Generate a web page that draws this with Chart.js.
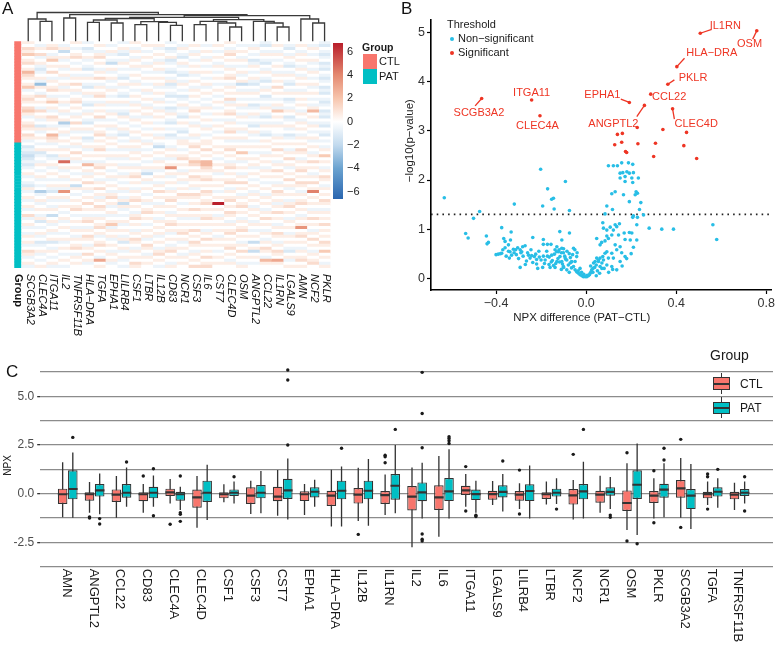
<!DOCTYPE html>
<html>
<head>
<meta charset="utf-8">
<title>CTL vs PAT proteins</title>
<script src="https://cdn.jsdelivr.net/npm/chart.js@4.4.1/dist/chart.umd.min.js"></script>
<style>
  body { margin: 0; background: #fff; font-family: "Liberation Sans", Arial, sans-serif; }
  #wrap { position: relative; width: 777px; height: 649px; overflow: hidden; }
  canvas { position: absolute; }
  .t { position: absolute; white-space: nowrap; line-height: 1; color: #1a1a1a; }
  .panel { font-size: 17px; color: #111; }
  .blk { position: absolute; }
</style>
</head>
<body>
<div id="wrap">
  <canvas id="box" width="777" height="319" style="left:0;top:330px"></canvas>
  <canvas id="heat" width="390" height="342" style="left:0;top:0"></canvas>
  <canvas id="dendro" width="390" height="45" style="left:0;top:0"></canvas>
  <canvas id="cbar" width="70" height="180" style="left:320px;top:30px"></canvas>
  <canvas id="vol" width="392" height="330" style="left:385px;top:0"></canvas>

  <div class="t panel" style="left:2px;top:0">A</div>
  <div class="t panel" style="left:401px;top:0">B</div>
  <div class="t panel" style="left:6px;top:363px">C</div>

  <!-- heatmap group legend -->
  <div class="t" style="left:362px;top:42px;font-size:10.5px;font-weight:bold">Group</div>
  <div class="blk" style="left:363px;top:54px;width:14px;height:15px;background:#F8766D"></div>
  <div class="blk" style="left:363px;top:69px;width:14px;height:15px;background:#00BFC4"></div>
  <div class="t" style="left:379px;top:56px;font-size:11px">CTL</div>
  <div class="t" style="left:379px;top:71px;font-size:11px">PAT</div>

  <!-- volcano legend -->
  <div class="t" style="left:447px;top:19px;font-size:11px">Threshold</div>
  <div class="blk" style="left:449.7px;top:36.7px;width:4px;height:4px;border-radius:50%;background:#28BEE6"></div>
  <div class="blk" style="left:449.7px;top:50.7px;width:4px;height:4px;border-radius:50%;background:#EE3524"></div>
  <div class="t" style="left:458px;top:33px;font-size:11px">Non&#8722;significant</div>
  <div class="t" style="left:458px;top:47px;font-size:11px">Significant</div>

  <!-- boxplot legend -->
  <div class="t" style="left:710px;top:348px;font-size:14px">Group</div>
  <div class="blk" style="left:721px;top:373px;width:1.3px;height:21px;background:#333"></div>
  <div class="blk" style="left:713px;top:377px;width:14.6px;height:10.6px;border:1.2px solid #333;background:#F8766D"></div>
  <div class="blk" style="left:713px;top:382.8px;width:17px;height:2px;background:#333"></div>
  <div class="t" style="left:740px;top:377.5px;font-size:12px">CTL</div>
  <div class="blk" style="left:721px;top:397px;width:1.3px;height:21px;background:#333"></div>
  <div class="blk" style="left:713px;top:401.5px;width:14.6px;height:10.6px;border:1.2px solid #333;background:#00BFC4"></div>
  <div class="blk" style="left:713px;top:407px;width:17px;height:2px;background:#333"></div>
  <div class="t" style="left:740px;top:401.5px;font-size:12px">PAT</div>
</div>

<script>
// ---------- panel A : heatmap ----------
var heatGenes = ['SCGB3A2','CLEC4A','ITGA11','IL2','TNFRSF11B','HLA-DRA','TGFA','EPHA1','LILRB4','CSF1',
  'LTBR','IL12B','CD83','NCR1','CSF3','IL6','CST7','CLEC4D','OSM','ANGPTL2','CCL22','IL1RN','LGALS9','AMN','NCF2','PKLR'];
var nCTL = 34, nPAT = 42;
// one string per gene, one letter per sample: N = 0, each letter step = 0.6 NPX (CTL | PAT)
var levelStep = 0.6;
var heatLevels = [
  'ONPOQNOPNORPONOQMNOPONPQOMNOPONPOM|NLMLKLMLMNOMNMLOMNOMNOMNPMNOMNMONOMNPOMNOM',
  'NMONPMNOMLMNOMIONMPNONMPNOMNLOMNON|MNOLMNMONMNOMNMNJMNOMNONMOLNMNOMNLMNOMNMNO',
  'NOPNMOQNONPNMONOPNMOQNOMNPONMONRPO|MNONLMNOMNONMNOMLNOMNMONKNOMNOMNOLNMONMNOM',
  'NMOKNOMNOMNOMNOMONMNOMNOMNOJMNOMNO|NMONOMVNOMNOMNOMTNOMNONMNOMNONMNOMNONMNONM',
  'ONMNOPNMNONMONPNOMNOPNONMONPNOMNON|OMNPNOMNONMNONKONMNONOPNMNONMONMONOPNMONON',
  'MNLMNOMNMLNMONMLNOMNMLNMONMLNOMNLM|NOMNONMRNOMONPNOMNONPNONMOPNMONPONMONPNOMN',
  'NONMOPNONMONPNMONOPNMONONPMNONOPNO|NOPNONMOPNONMONPNOMONPONMONOPNOMNOPNONMSNO',
  'NMNOMNMKNOMNOMNMONMNOMNMONMNOMNMON|ONMNOMNONMNOMNONMOPNOMNOMNOQMONOMNONMONOMN',
  'MNOMLNMONMNMLNOMNMLNOMNMLONMNOMLNM|NOMNOMNMONMONMNOMNMOKOMNMNOMNONMOLNOMNOMNM',
  'ONMONMONOMNONMONMNONMONONMONMNONMO|NOMONONMONOPNONMONOPNONMOPNONMONPONMONONPO',
  'NONMNONMONMNONMNOMNONMONOMNONMNONM|ONMNONMNOMKNOMNONMNOMNOPNONMNONOMNPONMONON',
  'NOMNONMONOMNONOMNONMONMONONMNONMON|MKNONMONOMNONMONPNONMONONMONONOMNONMOPNONM',
  'MNLMNOLMNMLNMOLMNMLNMNLMONMLNMNLMN|NMONOMNOTNOMNONMONOPNONMONOPNOMNONMOPNONMO',
  'NMONMLNOMNMLNMONMNLMNOMNMLNONMLNMO|ONMNOPNONMONOMNONPONMNONOMNONOPNOMNONMONON',
  'NONMONMNONOMNONMONONMNOPNONMONNOMN|OPNONOQPNONPONOMNPONONPNOMNONPNONPONMONONP',
  'NMNONMONMNONMNOMNONMNMONMNONMONMNO|ONPNONRRPONOPNONPONOPNONOPNONMONPNONONPNOP',
  'NONMNONMONMNONMNONMNONMNONMNONMNON|NONONMNONOMNONONMNONZNONMONONONMONONMNONON',
  'ONMOPNONMONOPNMONONPMONOPNMONOPNOM|NOPNONMOPNONOPNMONOPNONPONMONOPNONOPNONMON',
  'NMNONMONMNOMNOKNMONMNOMNMONMNOMNOM|NONQNOMNONMONPNONMONOPNONMONOPNONMONPNONMO',
  'NMONMNLMONMNOMLNMONMNLMNOMNMLNOMNM|NONMNONOMNONMNONMONONMONONMONMNONKNOKNONMN',
  'MLNMONMLNMONMLNMONLMNMONMLNMONMLNO|NONMONONMONONMNONMONONMONPNONMONMONPONMRON',
  'NONMONMNONMONONPNONMNOMQNONMONNMON|ONPNONMONPNONMONPONOMONPNONMONPONMONPONSON',
  'NMLNMONMLNMONMLNMONLMNMONLMNOMNLMN|ONMONPNOMNONPNOMNONMOPNONMONONMONONMLNOMNO',
  'NONMONONMONMONONMONONONMONMONONMON|ONPONMONOPNONPONMONOPNONMONOTNOPNONMONOPNO',
  'NMONMNOMNMONMNOMNONMNMORNONMONMNOM|NONMONPNONMONPNOUNONONMONPNONMONPNONMONOPN',
  'MLNMLMNLMLNMLMNLMLNMLMNLMLNMLNMLNM|NMONQNONMONPONMONONPONMONONPNONONPONQNONMO'
];
var groupColor = { CTL: '#F8766D', PAT: '#00BFC4' };
// colour key: NPX value -> colour
var heatStops = [[-6.7, '#2A66B0'], [-4, '#6BA3D0'], [-2, '#C2DAEE'], [0, '#FFFFFF'], [2, '#F7C5AD'], [4, '#E48970'], [6.7, '#B9202C']];
var cbRange = [-6.63, 6.75];
var cbTicks = [-6, -4, -2, 0, 2, 4, 6];
// dendrogram merges: [child, child, height]; ids >= 26 are earlier merges
var dendroMerge = [
  [1, 2, 20.0], [0, 26, 22.3], [3, 4, 23.3], [5, 6, 19.0], [7, 8, 18.3], [29, 30, 21.3],
  [9, 10, 16.6], [12, 13, 16.0], [11, 33, 19.0], [32, 34, 19.6], [31, 35, 22.8],
  [14, 15, 16.6], [17, 18, 14.3], [16, 38, 18.3], [37, 39, 20.0],
  [21, 22, 14.3], [20, 41, 18.3], [19, 42, 20.0], [40, 43, 21.6], [36, 44, 24.0],
  [24, 25, 18.3], [23, 46, 22.3], [45, 47, 25.6], [28, 48, 26.6], [27, 49, 28.8]
];

// ---------- panel B : volcano ----------
var volXRange = [-0.689, 0.822];
var volYRange = [-0.24, 5.26];
var volXTicks = [-0.4, 0, 0.4, 0.8];
var volYTicks = [0, 1, 2, 3, 4, 5];
var pCutoff = 0.05;
var sigGenes = ['IL1RN','OSM','HLA-DRA','PKLR','CCL22','EPHA1','ANGPTL2','CLEC4D','SCGB3A2','ITGA11','CLEC4A'];
var sigDiff  = [0.507, 0.758, 0.403, 0.363, 0.287, 0.192, 0.259, 0.384, -0.464, -0.242, -0.205];
var sigLogP  = [4.99, 5.04, 4.31, 3.95, 3.75, 3.58, 3.52, 3.45, 3.66, 3.63, 3.31];
var sigOtherDiff = [0.227, 0.341, 0.446, 0.139, 0.161, 0.158, 0.127, 0.230, 0.308, 0.434, 0.175, 0.180, 0.300, 0.491];
var sigOtherLogP = [3.07, 3.03, 2.97, 2.93, 2.95, 2.77, 2.72, 2.74, 2.75, 2.70, 2.58, 2.56, 2.48, 2.44];
var nsPoints = [
  [-0.630,1.64],[-0.202,2.22],[-0.171,1.82],[-0.153,1.61],[-0.145,1.63],[-0.193,1.47],[-0.319,1.51],[-0.473,1.36],
  [-0.500,1.22],[-0.142,1.41],[-0.535,0.91],[-0.524,0.82],[-0.443,0.86],[-0.434,0.73],[-0.440,0.70],[-0.375,1.03],
  [-0.333,0.94],[-0.366,0.81],[-0.360,0.75],[-0.336,0.78],[-0.237,0.83],[-0.190,0.79],[-0.190,0.69],[-0.172,0.69],
  [-0.156,0.69],[-0.390,0.49],[-0.375,0.51],[-0.338,0.54],[-0.331,0.47],[-0.341,0.41],[-0.323,0.59],[-0.313,0.58],
  [-0.304,0.62],[-0.293,0.58],[-0.282,0.64],[-0.271,0.66],[-0.293,0.22],[-0.256,0.47],[-0.249,0.41],[-0.242,0.46],
  [-0.230,0.44],[-0.224,0.49],[-0.208,0.43],[-0.200,0.37],[-0.190,0.45],[-0.182,0.37],[-0.172,0.45],[-0.164,0.43],
  [-0.153,0.47],[-0.150,0.36],[-0.141,0.49],[-0.131,0.54],[-0.193,0.22],[-0.160,0.22],[-0.138,0.22],[-0.237,0.32],
  [-0.220,0.29],[-0.092,1.97],[-0.074,1.38],[-0.117,0.95],[-0.074,0.92],[-0.108,0.78],[-0.345,0.68],[-0.286,0.54],
  [-0.120,0.58],[-0.110,0.52],[-0.100,0.60],[-0.095,0.45],[-0.085,0.55],[-0.090,0.38],[-0.075,0.50],[-0.070,0.42],
  [-0.065,0.33],[-0.060,0.48],[-0.125,0.40],[-0.118,0.33],[-0.105,0.29],[-0.135,0.30],[-0.145,0.26],[-0.155,0.33],
  [-0.165,0.28],[-0.175,0.55],[-0.185,0.30],[-0.210,0.55],[-0.220,0.38],[-0.245,0.58],[-0.260,0.52],[-0.265,0.35],
  [-0.280,0.45],[-0.290,0.52],[-0.300,0.40],[-0.310,0.48],[-0.320,0.52],[-0.345,0.55],[-0.355,0.45],[-0.370,0.58],
  [-0.380,0.50],[-0.400,0.48],[-0.360,0.62],[-0.270,0.28],[-0.215,0.20],[-0.110,0.18],[-0.100,0.22],[-0.130,0.64],
  [-0.050,0.58],[-0.040,0.52],
  [-0.138,0.58],[-0.130,0.34],[-0.123,0.54],[-0.116,0.44],[-0.108,0.61],[-0.101,0.52],[-0.093,0.41],[-0.086,0.37],
  [-0.079,0.27],[-0.071,0.31],[-0.064,0.34],[-0.056,0.24],[-0.049,0.17],[-0.042,0.13],[-0.034,0.10],[-0.027,0.07],
  [-0.019,0.05],[-0.012,0.03],[-0.004,0.03],[0.003,0.03],[0.010,0.05],[0.018,0.10],[0.025,0.17],[0.030,0.20],
  [0.033,0.31],[0.040,0.34],[0.045,0.27],[0.047,0.41],[0.055,0.34],[0.062,0.41],[0.070,0.31],[0.074,0.44],
  [0.077,0.37],[0.084,0.51],[-0.056,0.61],[-0.042,0.44],[-0.086,0.17],[-0.101,0.24],[-0.108,0.34],[-0.049,0.34],
  [-0.027,0.20],[0.055,0.37],[0.062,0.24],[0.070,0.20],[-0.020,0.12],[-0.010,0.08],[0.005,0.06],[0.015,0.07],
  [0.022,0.13],[-0.035,0.15],[0.038,0.22],[0.050,0.15],[-0.065,0.21],[-0.075,0.12],[0.020,0.25],[0.030,0.12],
  [0.099,2.29],[0.121,2.29],[0.139,2.29],[0.158,2.35],[0.188,2.35],[0.207,2.32],[0.151,2.14],[0.163,2.15],
  [0.181,2.17],[0.192,2.14],[0.210,2.15],[0.173,2.07],[0.151,2.04],[0.203,2.04],[0.232,2.04],[0.173,1.97],
  [0.207,1.95],[0.129,1.76],[0.114,1.72],[0.166,1.70],[0.222,1.76],[0.228,1.73],[0.218,1.70],[0.092,1.47],
  [0.192,1.56],[0.243,1.54],[0.117,1.40],[0.237,1.40],[0.084,1.31],[0.210,1.27],[0.228,1.24],[0.207,1.24],
  [0.280,1.02],[0.336,1.00],[0.225,1.09],[0.074,1.13],[0.077,1.02],[0.092,0.98],[0.107,1.04],[0.129,1.09],
  [0.136,1.05],[0.148,1.11],[0.121,0.98],[0.144,0.88],[0.114,0.88],[0.092,0.86],[0.099,0.81],[0.084,0.76],
  [0.062,0.68],[0.047,0.81],[0.069,0.73],[0.169,0.92],[0.192,0.93],[0.203,0.92],[0.173,0.79],[0.196,0.78],
  [0.225,0.78],[0.210,0.63],[0.151,0.64],[0.129,0.68],[0.136,0.58],[0.114,0.51],[0.092,0.54],[0.099,0.41],
  [0.121,0.41],[0.151,0.34],[0.173,0.44],[0.114,0.24],[0.092,0.27],[0.136,0.17],[0.118,0.18],[0.158,0.52],
  [0.388,1.00],[0.563,1.09],[0.580,0.79],[0.255,1.29],[0.180,0.40],[0.200,0.50],[0.160,0.25],[0.100,0.12],
  [0.080,0.20],[0.060,0.10],[0.045,0.05]
];

// ---------- panel C : boxplots ----------
var boxGenes = ['AMN','ANGPTL2','CCL22','CD83','CLEC4A','CLEC4D','CSF1','CSF3','CST7','EPHA1','HLA-DRA','IL12B','IL1RN',
  'IL2','IL6','ITGA11','LGALS9','LILRB4','LTBR','NCF2','NCR1','OSM','PKLR','SCGB3A2','TGFA','TNFRSF11B'];
var ctlLow  = [-1.21,-0.98,-1.23,-0.98,-0.50,-1.75,-0.44,-1.04,-1.13,-1.10,-1.69,-1.40,-1.10,-2.75,-2.21,-0.67,-0.58,-0.79,-0.55,-1.32,-0.98,-1.87,-1.27,-1.23,-0.58,-0.84];
var ctlQ1   = [-0.53,-0.36,-0.43,-0.39,-0.12,-0.72,-0.24,-0.53,-0.39,-0.38,-0.63,-0.51,-0.53,-0.86,-0.84,-0.07,-0.31,-0.36,-0.27,-0.56,-0.46,-0.89,-0.48,-0.21,-0.24,-0.29];
var ctlMed  = [-0.03,-0.03,-0.05,-0.03,0.07,-0.19,-0.03,-0.10,-0.15,-0.03,-0.10,-0.05,-0.07,-0.15,-0.19,0.17,-0.02,-0.05,-0.03,-0.09,-0.05,-0.48,-0.10,0.27,-0.02,-0.05];
var ctlQ3   = [0.26,0.07,0.22,0.07,0.26,0.21,0.07,0.33,0.36,0.12,0.15,0.29,0.14,0.39,0.43,0.41,0.15,0.14,0.07,0.24,0.15,0.17,0.14,0.70,0.10,0.10];
var ctlHigh = [1.61,0.60,0.91,0.50,0.75,0.91,0.48,0.67,1.21,0.50,1.23,1.33,0.99,1.35,1.93,1.01,0.65,0.53,0.63,0.70,0.92,1.56,0.79,1.83,0.62,0.56];
var ctlOut  = [[],[-1.19,-1.25],[],[0.91],[-1.57],[],[],[],[],[],[],[-2.09],[1.98,1.90,1.59],[],[],[1.39,-0.89],[],[1.21,-1.04],[],[2.02],[],[2.10,-2.43],[1.18,-1.49],[2.79,-1.73],[1.01,0.87,-0.79],[]];
var patLow  = [-1.23,-1.06,-0.67,-0.67,-0.84,-1.35,-0.50,-1.01,-1.32,-0.67,-1.69,-1.64,-1.01,-1.27,-1.27,-0.98,-0.92,-1.27,-0.53,-1.27,-0.79,-2.12,-1.21,-1.81,-0.72,-0.50];
var patQ1   = [-0.29,-0.15,-0.21,-0.24,-0.36,-0.43,-0.12,-0.24,-0.27,-0.19,-0.29,-0.29,-0.31,-0.39,-0.38,-0.33,-0.19,-0.38,-0.15,-0.29,-0.10,-0.27,-0.21,-0.79,-0.15,-0.12];
var patMed  = [0.24,0.17,0.05,0.05,-0.03,0.05,0.05,0.05,0.17,0.10,0.15,0.15,0.41,0.07,0.12,-0.02,0.09,0.14,0.05,0.12,0.09,0.46,0.21,-0.10,0.10,0.05];
var patQ3   = [1.20,0.50,0.50,0.36,0.10,0.67,0.22,0.44,0.77,0.33,0.67,0.67,1.01,0.58,0.80,0.21,0.43,0.48,0.26,0.50,0.33,1.20,0.51,0.24,0.33,0.24];
var patHigh = [2.12,1.04,1.35,0.94,0.36,1.49,0.62,1.16,1.81,0.72,1.39,1.78,2.50,1.59,2.28,0.67,1.01,1.45,0.79,1.64,0.86,2.58,1.56,1.52,0.79,0.62];
var patOut  = [[2.89],[-1.28,-1.56],[1.63],[1.28,-1.13],[0.91,-0.98,-1.06,-1.42],[],[0.87],[],[2.50,5.84,6.35],[],[2.33],[],[3.30],[6.23,4.12,2.36,-2.07,-2.34,-2.43],[2.93,2.84,2.72,2.58],[-1.11,-1.17],[1.68],[],[-0.79],[3.30],[-1.10,-1.21],[-2.57],[2.33,1.73],[],[1.25],[0.87,-0.89]];
var boxGridVals = [-3.75, -2.5, -1.25, 0, 1.25, 2.5, 3.75, 5, 6.25];
var boxTickLabels = [-2.5, 0, 2.5, 5];

var FONT = '"Liberation Sans", Arial, sans-serif';
Chart.defaults.font.family = FONT;
Chart.defaults.animation = false;
Chart.defaults.plugins.legend.display = false;
Chart.defaults.plugins.tooltip.enabled = false;

function minusSign(s) { return String(s).replace(/-/g, '\u2212'); }

function hexRgb(h) { return [parseInt(h.substr(1, 2), 16), parseInt(h.substr(3, 2), 16), parseInt(h.substr(5, 2), 16)]; }
function heatColor(v) {
  if (v <= heatStops[0][0]) return heatStops[0][1];
  for (var i = 1; i < heatStops.length; i++) {
    if (v <= heatStops[i][0]) {
      var a = heatStops[i - 1], b = heatStops[i];
      var t = (v - a[0]) / (b[0] - a[0]);
      var ca = hexRgb(a[1]), cb = hexRgb(b[1]);
      return 'rgb(' + ca.map(function (c, k) { return Math.round(c + (cb[k] - c) * t); }).join(',') + ')';
    }
  }
  return heatStops[heatStops.length - 1][1];
}

// rows of the heatmap (samples)
var rowGroup = [];
for (var r = 0; r < nCTL + nPAT; r++) rowGroup.push(r < nCTL ? 'CTL' : 'PAT');
var cellVals = heatLevels.map(function (s) {
  var parts = s.split('|');
  var str = parts[0].padEnd(nCTL, 'N').slice(0, nCTL) + parts[1].padEnd(nPAT, 'N').slice(0, nPAT);
  return str.split('').map(function (ch) { return (ch.charCodeAt(0) - 78) * levelStep; });
});

var heatSets = heatGenes.map(function (g, c) {
  return {
    label: g,
    data: rowGroup.map(function () { return [c, c + 1]; }),
    backgroundColor: rowGroup.map(function (_, r) { return heatColor(cellVals[c][r]); })
  };
});
heatSets.push({
  label: 'Group',
  data: rowGroup.map(function () { return [-0.65, -0.12]; }),
  backgroundColor: rowGroup.map(function (g) { return groupColor[g]; })
});

var heatLabels = {
  id: 'heatLabels',
  afterDraw: function (chart) {
    var ctx = chart.ctx, x = chart.scales.x, area = chart.chartArea;
    ctx.save();
    ctx.fillStyle = '#111';
    ctx.textAlign = 'left';
    ctx.textBaseline = 'middle';
    ctx.font = 'italic 11px ' + FONT;
    heatGenes.forEach(function (g, i) {
      ctx.save();
      ctx.translate(x.getPixelForValue(i + 0.5) + 1.5, area.bottom + 6);
      ctx.rotate(Math.PI / 2);
      ctx.fillText(minusSign(g), 0, 0);
      ctx.restore();
    });
    ctx.font = 'bold 11px ' + FONT;
    ctx.translate(x.getPixelForValue(-0.385), area.bottom + 6);
    ctx.rotate(Math.PI / 2);
    ctx.fillText('Group', 0, 0);
    ctx.restore();
  }
};

new Chart(document.getElementById('heat'), {
  type: 'bar',
  data: { labels: rowGroup.map(function (g, r) { return g + r; }), datasets: heatSets },
  options: {
    responsive: false,
    indexAxis: 'y',
    layout: { padding: { left: 14, right: 59.5, top: 41.3, bottom: 74 } },
    datasets: { bar: { barPercentage: 1, categoryPercentage: 1, grouped: false, borderWidth: 0 } },
    scales: {
      x: { type: 'linear', min: -0.7, max: heatGenes.length, display: false },
      y: { type: 'category', display: false }
    }
  },
  plugins: [heatLabels]
});

// dendrogram
var nodeX = [], nodeH = [];
heatGenes.forEach(function (g, i) { nodeX[i] = i + 0.5; nodeH[i] = 0; });
var dendroSets = dendroMerge.map(function (m, k) {
  var a = m[0], b = m[1], h = m[2], id = heatGenes.length + k;
  nodeX[id] = (nodeX[a] + nodeX[b]) / 2;
  nodeH[id] = h;
  return {
    data: [{ x: nodeX[a], y: nodeH[a] }, { x: nodeX[a], y: h }, { x: nodeX[b], y: h }, { x: nodeX[b], y: nodeH[b] }],
    showLine: true, borderColor: '#3a3a3a', borderWidth: 1.3, pointRadius: 0, clip: false
  };
});
new Chart(document.getElementById('dendro'), {
  type: 'scatter',
  data: { datasets: dendroSets },
  options: {
    responsive: false,
    layout: { padding: { left: 14, right: 59.5, top: 12.5, bottom: 3.7 } },
    scales: {
      x: { type: 'linear', min: -0.7, max: heatGenes.length, display: false },
      y: { type: 'linear', min: 0, max: dendroMerge[dendroMerge.length - 1][2], display: false }
    }
  }
});

// colour key
new Chart(document.getElementById('cbar'), {
  type: 'bar',
  data: {
    labels: [''],
    datasets: [{
      data: [cbRange],
      barPercentage: 1, categoryPercentage: 1, borderWidth: 0,
      backgroundColor: function (c) {
        var chart = c.chart;
        if (!chart.chartArea) return '#fff';
        var y = chart.scales.y;
        var g = chart.ctx.createLinearGradient(0, y.getPixelForValue(cbRange[0]), 0, y.getPixelForValue(cbRange[1]));
        heatStops.forEach(function (s) {
          var t = (s[0] - cbRange[0]) / (cbRange[1] - cbRange[0]);
          g.addColorStop(Math.min(1, Math.max(0, t)), s[1]);
        });
        return g;
      }
    }]
  },
  options: {
    responsive: false,
    layout: { padding: { left: 13, right: 0, top: 13, bottom: 11 } },
    scales: {
      x: { display: false },
      y: {
        position: 'right', min: cbRange[0], max: cbRange[1],
        afterBuildTicks: function (s) { s.ticks = cbTicks.map(function (v) { return { value: v }; }); },
        afterFit: function (s) { s.width = 47; },
        grid: { display: false, drawTicks: false },
        border: { display: false },
        ticks: { padding: 4, color: '#222', font: { size: 11 }, callback: function (v) { return minusSign(v); } }
      }
    }
  }
});

// ---------- volcano ----------
var sigRed = '#EE3524', nsBlue = '#28BEE6';
var labelSpots = {
  'IL1RN':   { at: [0.618, 5.14], seg: [0.558, 5.07] },
  'OSM':     { at: [0.726, 4.77], seg: [0.740, 4.87] },
  'HLA-DRA': { at: [0.558, 4.58], seg: [0.437, 4.48] },
  'PKLR':    { at: [0.475, 4.07], seg: [0.392, 4.04] },
  'CCL22':   { at: [0.369, 3.69] },
  'EPHA1':   { at: [0.072, 3.73], seg: [0.154, 3.65] },
  'ANGPTL2': { at: [0.121, 3.14], seg: [0.225, 3.29] },
  'CLEC4D':  { at: [0.489, 3.14], seg: [0.392, 3.24] },
  'SCGB3A2': { at: [-0.476, 3.36], seg: [-0.493, 3.51] },
  'ITGA11':  { at: [-0.242, 3.77] },
  'CLEC4A':  { at: [-0.216, 3.10] }
};
var volText = {
  id: 'volText',
  afterDatasetsDraw: function (chart) {
    var ctx = chart.ctx, x = chart.scales.x, y = chart.scales.y, area = chart.chartArea;
    ctx.save();
    ctx.strokeStyle = sigRed;
    ctx.fillStyle = sigRed;
    ctx.lineWidth = 1.3;
    ctx.font = '11px ' + FONT;
    ctx.textAlign = 'center';
    ctx.textBaseline = 'middle';
    sigGenes.forEach(function (g, i) {
      var spot = labelSpots[g];
      if (spot.seg) {
        ctx.beginPath();
        ctx.moveTo(x.getPixelForValue(sigDiff[i]), y.getPixelForValue(sigLogP[i]));
        ctx.lineTo(x.getPixelForValue(spot.seg[0]), y.getPixelForValue(spot.seg[1]));
        ctx.stroke();
      }
      ctx.fillText(minusSign(g), x.getPixelForValue(spot.at[0]), y.getPixelForValue(spot.at[1]));
    });
    // axis titles
    ctx.fillStyle = '#222';
    ctx.font = '11.5px ' + FONT;
    ctx.fillText('NPX difference (PAT\u2212CTL)', area.left + 0.443 * area.width, area.bottom + 28);
    ctx.translate(25, area.top + 0.447 * area.height);
    ctx.rotate(-Math.PI / 2);
    ctx.fillText('\u2212log10(p\u2212value)', 0, 0);
    ctx.restore();
  }
};
var thr = -Math.log10(pCutoff);
new Chart(document.getElementById('vol'), {
  type: 'scatter',
  data: {
    datasets: [
      {
        type: 'line', data: [{ x: volXRange[0], y: thr }, { x: volXRange[1], y: thr }],
        borderColor: '#222', borderWidth: 1.6, borderDash: [1.6, 4.1], pointRadius: 0, order: 3
      },
      {
        label: 'Non-significant', data: nsPoints.map(function (p) { return { x: p[0], y: p[1] }; }),
        backgroundColor: nsBlue, borderWidth: 0, pointRadius: 1.8, order: 2
      },
      {
        label: 'Significant',
        data: sigDiff.map(function (d, i) { return { x: d, y: sigLogP[i] }; })
          .concat(sigOtherDiff.map(function (d, i) { return { x: d, y: sigOtherLogP[i] }; })),
        backgroundColor: sigRed, borderWidth: 0, pointRadius: 1.8, order: 1
      }
    ]
  },
  options: {
    responsive: false,
    layout: { padding: { left: 0, right: 5.3, top: 20, bottom: 0 } },
    scales: {
      x: {
        type: 'linear', min: volXRange[0], max: volXRange[1],
        afterBuildTicks: function (s) { s.ticks = volXTicks.map(function (v) { return { value: v }; }); },
        afterFit: function (s) { s.height = 40; },
        grid: { drawOnChartArea: false, tickLength: 4, tickColor: '#000', tickWidth: 1.2 },
        border: { color: '#000', width: 1.6 },
        ticks: { padding: 2, color: '#333', font: { size: 12.5 }, maxRotation: 0,
          callback: function (v) { return minusSign(v.toFixed(1)); } }
      },
      y: {
        type: 'linear', min: volYRange[0], max: volYRange[1],
        afterBuildTicks: function (s) { s.ticks = volYTicks.map(function (v) { return { value: v }; }); },
        afterFit: function (s) { s.width = 46; },
        grid: { drawOnChartArea: false, tickLength: 4, tickColor: '#000', tickWidth: 1.2 },
        border: { color: '#000', width: 1.6 },
        ticks: { padding: 2, color: '#333', font: { size: 12.5 } }
      }
    }
  },
  plugins: [volText]
});

// ---------- boxplots ----------
// boxes sit on a linear x axis: gene i at i, CTL at i - dodge, PAT at i + dodge
var dodge = 0.189;
function atDodge(shift, fn) {
  return boxGenes.map(function (g, i) { return { x: i + shift, y: fn(i) }; });
}
var outlierPts = [];
boxGenes.forEach(function (g, i) {
  ctlOut[i].forEach(function (v) { outlierPts.push({ x: i - dodge, y: v }); });
  patOut[i].forEach(function (v) { outlierPts.push({ x: i + dodge, y: v }); });
});

var boxLabels = {
  id: 'boxLabels',
  afterDraw: function (chart) {
    var ctx = chart.ctx, x = chart.scales.x, area = chart.chartArea;
    ctx.save();
    ctx.fillStyle = '#1a1a1a';
    ctx.font = '13px ' + FONT;
    ctx.textAlign = 'left';
    ctx.textBaseline = 'middle';
    boxGenes.forEach(function (g, i) {
      ctx.save();
      ctx.translate(x.getPixelForValue(i) - 1.5, area.bottom + 1);
      ctx.rotate(Math.PI / 2);
      ctx.fillText(minusSign(g), 0, 0);
      ctx.restore();
    });
    ctx.restore();
  }
};

new Chart(document.getElementById('box'), {
  type: 'bar',
  data: {
    datasets: [
      { data: atDodge(-dodge, function (i) { return [ctlMed[i] - 0.055, ctlMed[i] + 0.055]; }), backgroundColor: '#333', barPercentage: 0.94, order: 1 },
      { data: atDodge(dodge, function (i) { return [patMed[i] - 0.055, patMed[i] + 0.055]; }), backgroundColor: '#333', barPercentage: 0.94, order: 1 },
      { data: atDodge(-dodge, function (i) { return [ctlQ1[i], ctlQ3[i]]; }), backgroundColor: '#F8766D', borderColor: '#333',
        borderWidth: 1.2, borderSkipped: false, barPercentage: 0.94, order: 2 },
      { data: atDodge(dodge, function (i) { return [patQ1[i], patQ3[i]]; }), backgroundColor: '#00BFC4', borderColor: '#333',
        borderWidth: 1.2, borderSkipped: false, barPercentage: 0.94, order: 2 },
      { data: atDodge(-dodge, function (i) { return [ctlLow[i], ctlHigh[i]]; }), backgroundColor: '#333', barPercentage: 0.13, order: 3 },
      { data: atDodge(dodge, function (i) { return [patLow[i], patHigh[i]]; }), backgroundColor: '#333', barPercentage: 0.13, order: 3 },
      { type: 'scatter', data: outlierPts, backgroundColor: '#1a1a1a', borderWidth: 0, pointRadius: 1.7, order: 0 }
    ]
  },
  options: {
    responsive: false,
    layout: { padding: { left: 0, right: 0, top: 33.2, bottom: 81.3 } },
    datasets: { bar: { categoryPercentage: 1, grouped: false, borderWidth: 0 } },
    scales: {
      x: {
        // panel runs on to the right edge, past the last gene slot
        type: 'linear', min: -0.5, max: boxGenes.length - 0.28, display: false,
        afterBuildTicks: function (s) { s.ticks = boxGenes.map(function (g, i) { return { value: i }; }); }
      },
      y: {
        type: 'linear', min: -3.8, max: 6.7,
        afterBuildTicks: function (s) { s.ticks = boxGridVals.map(function (v) { return { value: v }; }); },
        afterFit: function (s) { s.width = 40.2; },
        grid: {
          color: '#8c8c8c', lineWidth: 1.3, tickLength: 3,
          tickColor: function (c) { return boxTickLabels.indexOf(c.tick.value) >= 0 ? '#333' : 'rgba(0,0,0,0)'; }
        },
        border: { display: false },
        ticks: {
          padding: 3, color: '#4d4d4d', font: { size: 12 },
          callback: function (v) { return boxTickLabels.indexOf(v) >= 0 ? v.toFixed(1) : ''; }
        },
        title: { display: true, text: 'NPX', color: '#222', font: { size: 10 }, padding: 2 }
      }
    }
  },
  plugins: [boxLabels]
});
</script>
</body>
</html>
